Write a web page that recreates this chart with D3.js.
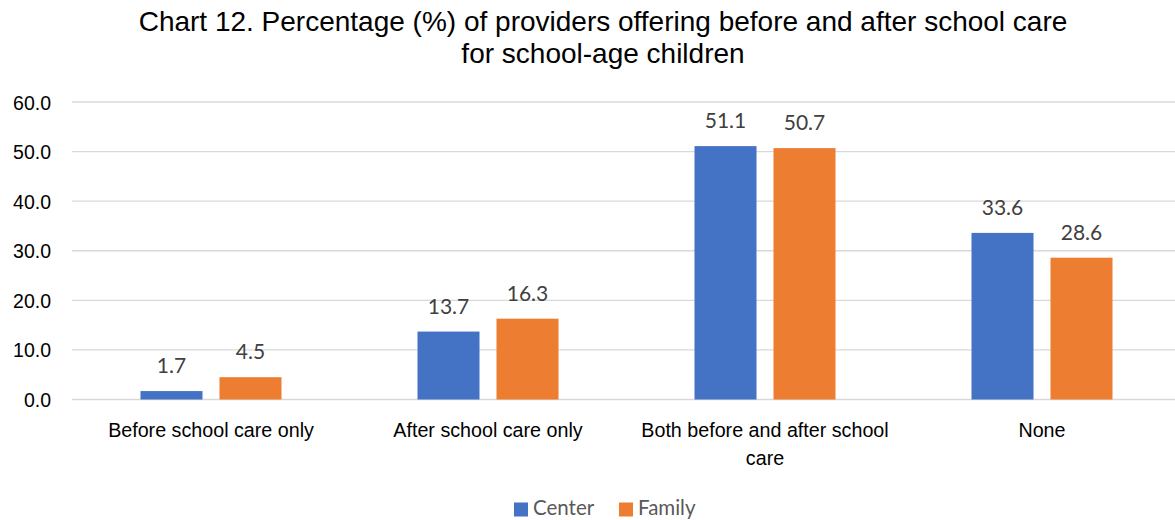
<!DOCTYPE html>
<html>
<head>
<meta charset="utf-8">
<script src="https://cdn.jsdelivr.net/npm/d3@7"></script>
<style>
  html, body { margin: 0; padding: 0; background: #fff; }
  svg { display: block; }
</style>
</head>
<body>
<svg id="chart" width="1175" height="520"></svg>
<script>
// Provider survey: before/after school care offerings
const categories = ["Before school care only", "After school care only", "Both before and after school care", "None"];
const seriesNames = ["Center", "Family"];
const centerValues = [1.7, 13.7, 51.1, 33.6];
const familyValues = [4.5, 16.3, 50.7, 28.6];
const yTicks = [0, 10, 20, 30, 40, 50, 60];
const titleLines = ["Chart 12. Percentage (%) of providers offering before and after school care", "for school-age children"];

const colors = { Center: "#4472C4", Family: "#ED7D31" };
const rows = categories.map((c, i) => ({ category: c, Center: centerValues[i], Family: familyValues[i] }));

const svg = d3.select("#chart");
const W = 1175;

const x = d3.scaleBand().domain(categories).range([72.5, 1180.5]).paddingInner(0).paddingOuter(0);
const inner = d3.scaleBand().domain(seriesNames).range([0, 141]).paddingInner(0.215);
const y = d3.scaleLinear().domain([0, 60]).range([399.5, 102]);
const innerOffset = (x.bandwidth() - 141) / 2;

// Title
svg.append("g").selectAll("text").data(titleLines).join("text")
  .attr("x", 603).attr("y", (d, i) => 31 + i * 32)
  .attr("text-anchor", "middle")
  .attr("font-family", "'Liberation Sans', Arial, sans-serif")
  .attr("font-size", 28).attr("fill", "#000")
  .text(d => d);

// Gridlines
svg.append("g").selectAll("line").data(yTicks).join("line")
  .attr("x1", 72).attr("x2", W)
  .attr("y1", d => y(d)).attr("y2", d => y(d))
  .attr("stroke", "#d9d9d9").attr("stroke-width", 1.3);

// Y axis labels
const yAxis = d3.axisLeft(y).tickValues(yTicks).tickFormat(d3.format(".1f")).tickSize(0).tickPadding(0);
const yg = svg.append("g").attr("transform", "translate(51,0)").call(yAxis);
yg.select(".domain").remove();
yg.selectAll("text")
  .attr("font-family", "'Liberation Sans', Arial, sans-serif")
  .attr("font-size", 19.5).attr("fill", "#000").attr("dy", "0.36em");

// Bars
const groups = svg.append("g").selectAll("g").data(rows).join("g")
  .attr("transform", d => `translate(${x(d.category) + innerOffset},0)`);

groups.selectAll("rect").data(d => seriesNames.map(s => ({ s, v: d[s] }))).join("rect")
  .attr("x", d => inner(d.s)).attr("width", inner.bandwidth())
  .attr("y", d => y(d.v)).attr("height", d => y(0) - y(d.v))
  .attr("fill", d => colors[d.s]);

// Value labels
groups.selectAll("text.val").data(d => seriesNames.map(s => ({ s, v: d[s] }))).join("text")
  .attr("class", "val")
  .attr("x", d => inner(d.s) + inner.bandwidth() / 2)
  .attr("y", d => y(d.v) - 18)
  .attr("text-anchor", "middle")
  .attr("font-family", "Lato, 'Open Sans', sans-serif")
  .attr("font-size", 21).attr("fill", "#404040")
  .text(d => d3.format(".1f")(d.v));

// Category labels (wrapped to band width)
const catG = svg.append("g");
categories.forEach(c => {
  const cx = x(c) + x.bandwidth() / 2;
  const t = catG.append("text")
    .attr("x", cx).attr("y", 437)
    .attr("text-anchor", "middle")
    .attr("font-family", "'Liberation Sans', Arial, sans-serif")
    .attr("font-size", 19.7).attr("fill", "#000");
  const words = c.split(" ");
  let line = [], tspan = t.append("tspan").attr("x", cx).attr("dy", 0);
  words.forEach(w => {
    line.push(w);
    tspan.text(line.join(" "));
    if (tspan.node().getComputedTextLength() > 255 && line.length > 1) {
      line.pop();
      tspan.text(line.join(" "));
      line = [w];
      tspan = t.append("tspan").attr("x", cx).attr("dy", 28).text(w);
    }
  });
});

// Legend
const legend = svg.append("g");
const legendItems = [{ s: "Center", x: 514 }, { s: "Family", x: 619 }];
legendItems.forEach(it => {
  legend.append("rect").attr("x", it.x).attr("y", 502.5).attr("width", 14).attr("height", 14).attr("fill", colors[it.s]);
  legend.append("text").attr("x", it.x + 19).attr("y", 515)
    .attr("font-family", "Lato, 'Open Sans', sans-serif")
    .attr("font-size", 20.5).attr("fill", "#595959").text(it.s);
});
</script>
</body>
</html>
